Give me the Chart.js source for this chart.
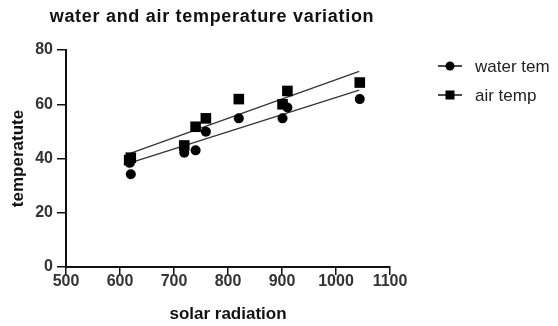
<!DOCTYPE html>
<html>
<head>
<meta charset="utf-8">
<script src="https://cdn.jsdelivr.net/npm/chart.js@4/dist/chart.umd.min.js"></script>
<style>
  html, body { margin: 0; padding: 0; background: #fff; }
  #wrap { width: 558px; height: 326px; }
</style>
</head>
<body>
<div id="wrap"><canvas id="c" width="558" height="326"></canvas></div>
<script>
// ---- data ----
const chartTitle = "water and air temperature variation";
const xAxisTitle = "solar radiation";
const yAxisTitle = "temperatute";
const seriesLabels = ["water tem", "air temp"];

const waterX = [618, 620, 719, 740, 759, 820, 901, 910, 1044];
const waterY = [38.4, 34.2, 42.1, 43.0, 49.9, 54.8, 54.8, 58.8, 61.9];

const airX = [617, 620, 719, 740, 759, 820, 901, 910, 1044];
const airY = [39.4, 40.3, 44.8, 51.7, 54.8, 61.9, 60.0, 64.9, 68.0];

const waterFitX = [620, 1043];
const waterFitY = [38.5, 65.2];
const airFitX = [620, 1043];
const airFitY = [42.0, 72.1];

const xTicks = [500, 600, 700, 800, 900, 1000, 1100];
const yTicks = [0, 20, 40, 60, 80];

const toPts = (xs, ys) => xs.map((x, i) => ({ x: x, y: ys[i] }));

const FONT = "'Liberation Sans', Arial, sans-serif";

const titlePlugin = {
  id: 'customTitle',
  afterDraw(chart) {
    const ctx = chart.ctx;
    ctx.save();
    ctx.fillStyle = '#111';
    ctx.font = "bold 18px " + FONT;
    try { ctx.letterSpacing = '0.7px'; } catch (e) {}
    ctx.textAlign = 'center';
    ctx.textBaseline = 'middle';
    ctx.fillText(chartTitle, 212, 17);
    ctx.restore();
  }
};

const legendPlugin = {
  id: 'customLegend',
  afterDraw(chart) {
    const ctx = chart.ctx;
    const rows = [
      { label: chart.data.datasets[0].label, style: 'circle', y: 66 },
      { label: chart.data.datasets[1].label, style: 'rect', y: 95 }
    ];
    ctx.save();
    rows.forEach(r => {
      ctx.strokeStyle = '#111';
      ctx.lineWidth = 1.5;
      ctx.beginPath();
      ctx.moveTo(438, r.y);
      ctx.lineTo(462, r.y);
      ctx.stroke();
      ctx.fillStyle = '#000';
      if (r.style === 'circle') {
        ctx.beginPath();
        ctx.arc(450, r.y, 4.5, 0, Math.PI * 2);
        ctx.fill();
      } else {
        ctx.fillRect(445.5, r.y - 4.5, 9, 9);
      }
      ctx.fillStyle = '#222';
      ctx.font = "17px " + FONT;
      ctx.textAlign = 'left';
      ctx.textBaseline = 'middle';
      ctx.fillText(r.label, 475, r.y + 1);
    });
    ctx.restore();
  }
};

new Chart(document.getElementById('c'), {
  type: 'scatter',
  data: {
    datasets: [
      {
        label: seriesLabels[0],
        data: toPts(waterX, waterY),
        pointStyle: 'circle',
        pointRadius: 5,
        pointBackgroundColor: '#000',
        pointBorderColor: '#000',
        pointBorderWidth: 0,
        showLine: false
      },
      {
        label: seriesLabels[1],
        data: toPts(airX, airY),
        pointStyle: 'rect',
        pointRadius: 7.5,
        pointBackgroundColor: '#000',
        pointBorderColor: '#000',
        pointBorderWidth: 0,
        showLine: false
      },
      {
        label: 'water fit',
        data: toPts(waterFitX, waterFitY),
        showLine: true,
        pointRadius: 0,
        borderColor: '#333',
        borderWidth: 1.2,
        fill: false
      },
      {
        label: 'air fit',
        data: toPts(airFitX, airFitY),
        showLine: true,
        pointRadius: 0,
        borderColor: '#333',
        borderWidth: 1.2,
        fill: false
      }
    ]
  },
  options: {
    responsive: false,
    animation: false,
    devicePixelRatio: 1,
    layout: { padding: { top: 50, right: 168, bottom: 0, left: 0 } },
    plugins: {
      legend: { display: false },
      title: { display: false },
      tooltip: { enabled: false }
    },
    scales: {
      x: {
        type: 'linear',
        min: xTicks[0],
        max: xTicks[xTicks.length - 1],
        afterBuildTicks: s => { s.ticks = xTicks.map(v => ({ value: v })); },
        afterFit: s => { s.height = 59; },
        grid: { display: true, drawOnChartArea: false, drawTicks: true, tickLength: 8, color: '#111', lineWidth: 1.5 },
        border: { display: true, color: '#111', width: 2 },
        ticks: { color: '#333', font: { family: FONT, size: 16, weight: 'bold' }, padding: -3, maxRotation: 0, callback: v => String(v) },
        title: { display: true, text: xAxisTitle, color: '#111', font: { family: FONT, size: 17, weight: 'bold' }, padding: { top: 0, bottom: 1 } }
      },
      y: {
        type: 'linear',
        min: yTicks[0],
        max: yTicks[yTicks.length - 1],
        afterBuildTicks: s => { s.ticks = yTicks.map(v => ({ value: v })); },
        afterFit: s => { s.width = 66; },
        grid: { display: true, drawOnChartArea: false, drawTicks: true, tickLength: 9, color: '#111', lineWidth: 1.5 },
        border: { display: true, color: '#111', width: 2 },
        ticks: { color: '#333', font: { family: FONT, size: 16, weight: 'bold' }, padding: 4, callback: v => String(v) },
        title: { display: true, text: yAxisTitle, color: '#111', font: { family: FONT, size: 17, weight: 'bold' }, padding: { top: 8, bottom: 0 } }
      }
    }
  },
  plugins: [titlePlugin, legendPlugin]
});
</script>
</body>
</html>
